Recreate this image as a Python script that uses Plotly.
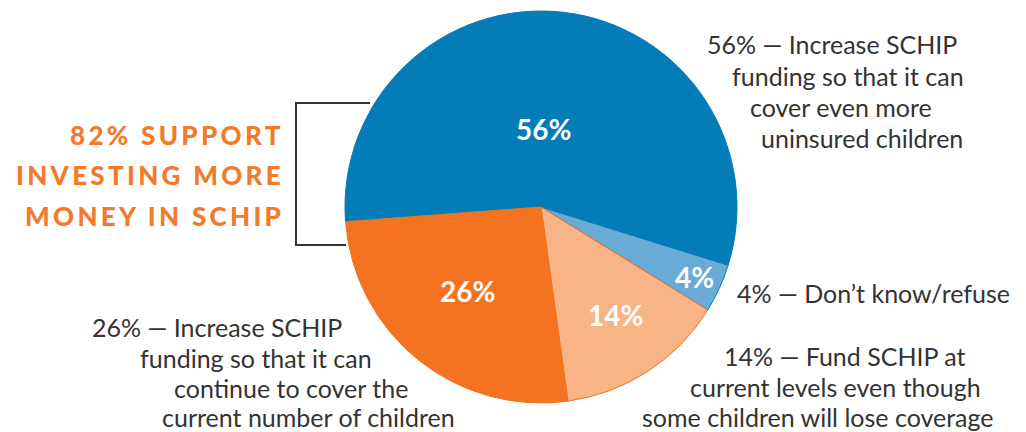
import math
import plotly.graph_objects as go

# ---------------- data ----------------
categories = [
    "Increase SCHIP funding so that it can cover even more uninsured children",
    "Don\u2019t know/refuse",
    "Fund SCHIP at current levels even though some children will lose coverage",
    "Increase SCHIP funding so that it can continue to cover the current number of children",
]
values = [56, 4, 14, 26]
slice_colors = ["#047CB7", "#6AAAD6", "#F8B386", "#F37321"]
edge_colors = ["#047CB7", "#047CB7", "#F37321", "#F37321"]

callout_lines = [
    [f"{values[0]}% \u2014 Increase SCHIP", "funding so that it can", "cover even more", "uninsured children"],
    [f"{values[1]}% \u2014 Don\u2019t know/refuse"],
    [f"{values[2]}% \u2014 Fund SCHIP at", "current levels even though", "some children will lose coverage"],
    [f"{values[3]}% \u2014 Increase SCHIP", "funding so that it can", "continue to cover the", "current number of children"],
]
headline_lines = [f"{values[0] + values[3]}% SUPPORT", "INVESTING MORE", "MONEY IN SCHIP"]

# ---------------- layout constants (pixels) ----------------
W, H = 1026, 432
CX, CY, R = 541, 207, 196
START = -94.3  # bearing (deg, clockwise from 12 o'clock) where first slice starts

def px(x):
    return x / W

def py(y):
    return 1 - y / H

# callout line anchor positions (x, centre y, anchor)
callout_pos = [
    [(705, 44, "left"), (730, 76, "left"), (748, 107, "left"), (759, 138, "left")],
    [(1012, 293, "right")],
    [(722, 356, "left"), (688, 387, "left"), (640, 417, "left")],
    [(90, 327, "left"), (138, 358, "left"), (172, 388, "left"), (160, 417, "left")],
]
label_frac = [0.40, 0.86, 0.67, 0.57]
label_off = [-4.5, 0.0, -1.5, 2.0]

FONT = "Lato, 'Open Sans', sans-serif"
TXT = "#333333"

fig = go.Figure(go.Pie(
    labels=categories,
    values=values,
    sort=False,
    direction="clockwise",
    rotation=START,
    marker=dict(colors=slice_colors, line=dict(color=edge_colors, width=1)),
    textinfo="none",
    hoverinfo="label+percent",
    showlegend=False,
    domain=dict(x=[px(CX - R), px(CX + R)], y=[py(CY + R), py(CY - R)]),
))

annotations = []
# percentage labels inside slices, positioned from the cumulative values
total = sum(values)
cum = 0
for i, v in enumerate(values):
    mid = START + 360 * (cum + v / 2) / total + label_off[i]
    cum += v
    b = math.radians(mid)
    x = CX + R * label_frac[i] * math.sin(b)
    y = CY - R * label_frac[i] * math.cos(b)
    annotations.append(dict(
        x=px(x), y=py(y), xref="paper", yref="paper", showarrow=False,
        text=f"<b>{v}%</b>", xanchor="center", yanchor="middle",
        font=dict(family=FONT, size=28, color="white"),
    ))

# callouts
for lines, poss in zip(callout_lines, callout_pos):
    for t, (x, y, anc) in zip(lines, poss):
        annotations.append(dict(
            x=px(x), y=py(y), xref="paper", yref="paper", showarrow=False,
            text=t, xanchor=anc, yanchor="middle",
            font=dict(family=FONT, size=25, color=TXT),
        ))

# headline
for t, y in zip(headline_lines, [135, 175, 216]):
    annotations.append(dict(
        x=px(286), y=py(y), xref="paper", yref="paper", showarrow=False,
        text=f"<span style='letter-spacing:3.3px'>{t}</span>",
        xanchor="right", yanchor="middle",
        font=dict(family=FONT, size=26, color="#F37A2A", weight=900),
    ))

# bracket
bracket = dict(type="path", xref="paper", yref="paper",
               path=f"M {px(370)},{py(103)} L {px(296)},{py(103)} L {px(296)},{py(245)} L {px(346)},{py(245)}",
               line=dict(color="#333333", width=2))

fig.update_layout(
    width=W, height=H,
    margin=dict(l=0, r=0, t=0, b=0),
    paper_bgcolor="white", plot_bgcolor="white",
    annotations=annotations,
    shapes=[bracket],
)

fig.write_html("out.html", config={"displayModeBar": False},
               post_script="document.body.style.margin='0';")
